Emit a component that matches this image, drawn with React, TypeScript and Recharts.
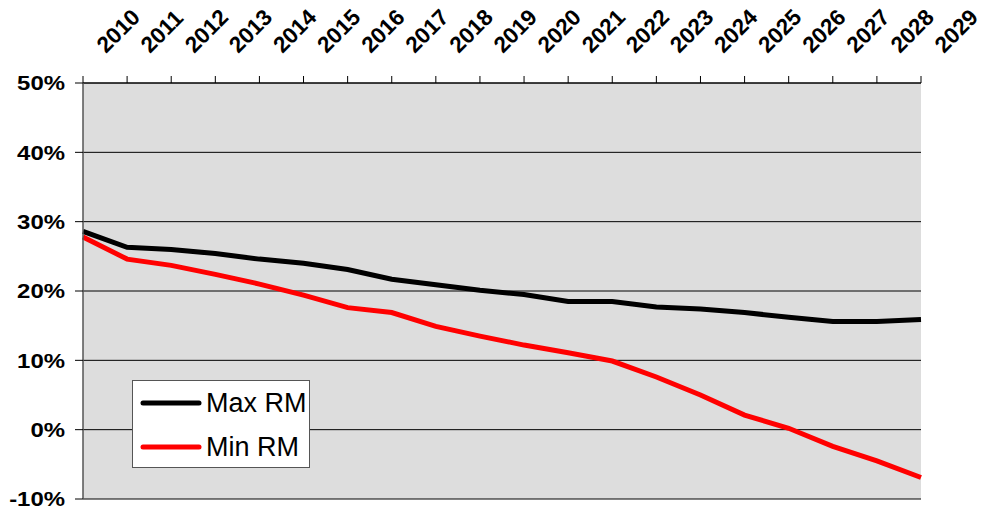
import React from 'react';
import { LineChart, Line, XAxis, YAxis, CartesianGrid, Legend } from 'recharts';

// Projection years along the top axis
const years = [
  '2010', '2011', '2012', '2013', '2014', '2015', '2016', '2017', '2018', '2019',
  '2020', '2021', '2022', '2023', '2024', '2025', '2026', '2027', '2028', '2029',
];

// Upper and lower RM bounds, in percent
const maxRM = [28.6, 26.3, 26.0, 25.4, 24.6, 24.0, 23.1, 21.7, 20.9, 20.1, 19.5, 18.5, 18.5, 17.7, 17.4, 16.9, 16.2, 15.6, 15.6, 15.9];
const minRM = [27.8, 24.6, 23.7, 22.4, 21.0, 19.4, 17.6, 16.9, 14.9, 13.5, 12.2, 11.1, 9.9, 7.6, 5.0, 2.1, 0.2, -2.4, -4.5, -6.9];

const yTicks = [-10, 0, 10, 20, 30, 40, 50];

const seriesNames = { max: 'Max RM', min: 'Min RM' };

const data = years.map((year, i) => ({ year, max: maxRM[i], min: minRM[i] }));

const FONT = '"Liberation Sans", Arial, Helvetica, sans-serif';

const YearTick = (props: any) => {
  const { x, y, payload } = props;
  return (
    <g transform={`translate(${x + 23},${y - 20})`}>
      <text
        transform="rotate(-45)"
        x={0}
        y={0}
        textAnchor="start"
        fontFamily={FONT}
        fontWeight="bold"
        fontSize={22.5}
        fill="#000"
      >
        {payload.value}
      </text>
    </g>
  );
};

const PercentTick = (props: any) => {
  const { x, y, payload } = props;
  return (
    <g transform={`translate(${x},${y}) scale(1.14,1)`}>
      <text
        x={0}
        y={0}
        dy="0.355em"
        textAnchor="end"
        fontFamily={FONT}
        fontWeight="bold"
        fontSize={21}
        fill="#000"
      >
        {`${payload.value}%`}
      </text>
    </g>
  );
};

const LegendBox = (props: any) => {
  const items = props.payload || [];
  return (
    <div
      style={{
        width: 176,
        height: 86,
        background: '#fff',
        border: '1px solid #555',
        boxSizing: 'content-box',
        fontFamily: FONT,
      }}
    >
      {items.map((item: any, i: number) => (
        <div
          key={i}
          style={{ display: 'flex', alignItems: 'center', height: 44, paddingLeft: 7 }}
        >
          <svg width={62} height={10} style={{ display: 'block' }}>
            <line x1={3} y1={5} x2={59} y2={5} stroke={item.color} strokeWidth={5} strokeLinecap="round" />
          </svg>
          <span style={{ fontSize: 27, color: '#000', marginLeft: 4, lineHeight: '44px' }}>
            {item.value}
          </span>
        </div>
      ))}
    </div>
  );
};

export default function App() {
  return (
    <div style={{ position: 'absolute', left: 0, top: 0, background: '#fff' }}>
      <LineChart
        width={982}
        height={510}
        data={data}
        margin={{ top: 0, right: 61, bottom: 11, left: 0 }}
      >
        <CartesianGrid
          vertical={false}
          horizontal={true}
          stroke="#000"
          strokeWidth={1}
          fill="#DDDDDD"
          fillOpacity={1}
        />
        <XAxis
          dataKey="year"
          orientation="top"
          height={83}
          interval={0}
          tickSize={7}
          tickMargin={2}
          axisLine={{ stroke: '#000', strokeWidth: 1 }}
          tickLine={{ stroke: '#000', strokeWidth: 1 }}
          tick={<YearTick />}
        />
        <YAxis
          type="number"
          domain={[-10, 50]}
          ticks={yTicks}
          interval={0}
          width={83}
          tickSize={8}
          tickMargin={10}
          axisLine={{ stroke: '#555', strokeWidth: 1.5 }}
          tickLine={{ stroke: '#000', strokeWidth: 1 }}
          tick={<PercentTick />}
        />
        <Legend
          layout="vertical"
          align="center"
          verticalAlign="middle"
          content={<LegendBox />}
          wrapperStyle={{ position: 'absolute', left: 132, top: 380, width: 'auto' }}
        />
        <Line
          type="linear"
          dataKey="max"
          name={seriesNames.max}
          stroke="#000000"
          strokeWidth={5}
          dot={false}
          activeDot={false}
          isAnimationActive={false}
        />
        <Line
          type="linear"
          dataKey="min"
          name={seriesNames.min}
          stroke="#FF0000"
          strokeWidth={5}
          dot={false}
          activeDot={false}
          isAnimationActive={false}
        />
      </LineChart>
    </div>
  );
}
